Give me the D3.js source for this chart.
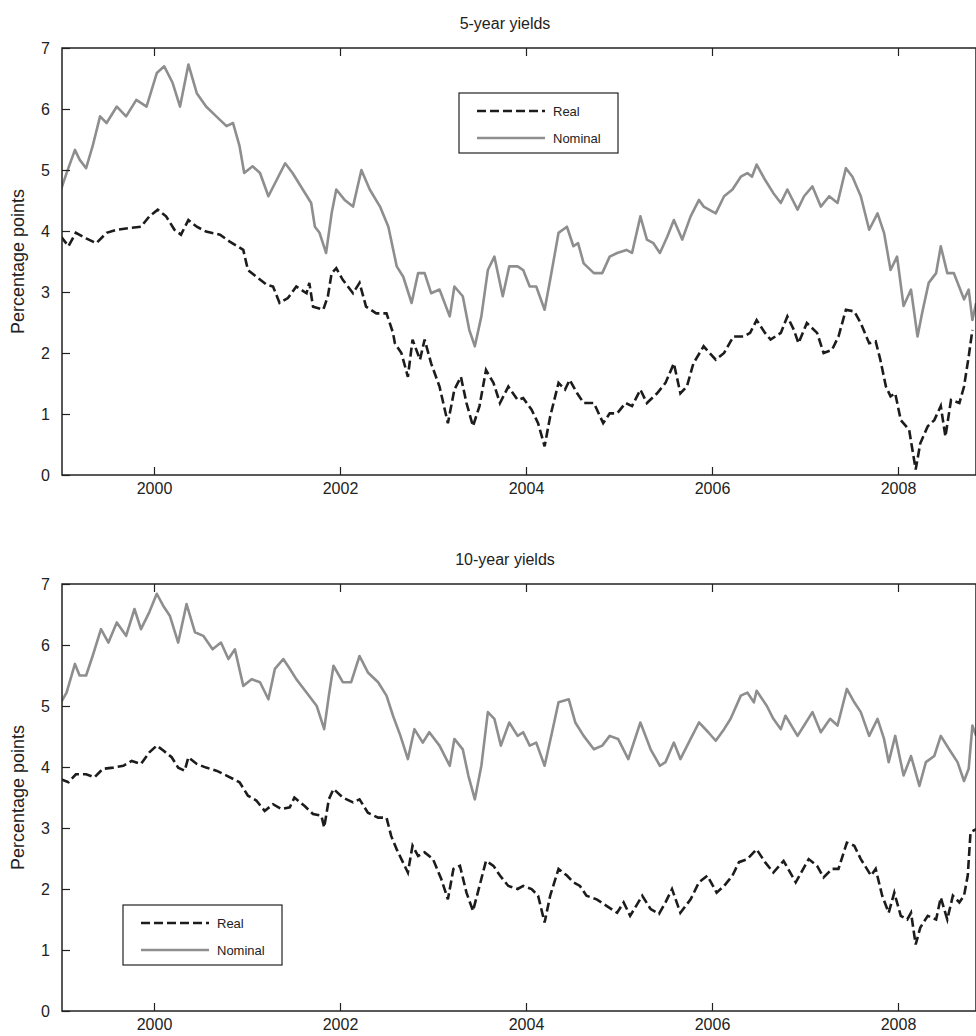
<!DOCTYPE html>
<html>
<head>
<meta charset="utf-8">
<script src="https://cdn.jsdelivr.net/npm/d3@7"></script>
<style>
  body { margin: 0; background: #fff; }
  text { font-family: "Liberation Sans", Arial, sans-serif; fill: #222; }
</style>
</head>
<body>
<script>
// 5-year yields (decimal year, percent)
const nom5Dates = [1999.00,1999.06,1999.15,1999.20,1999.27,1999.34,1999.42,1999.49,1999.60,1999.70,1999.81,1999.92,2000.03,2000.11,2000.20,2000.28,2000.37,2000.46,2000.56,2000.67,2000.78,2000.85,2000.92,2000.97,2001.06,2001.14,2001.23,2001.32,2001.41,2001.49,2001.60,2001.69,2001.73,2001.78,2001.85,2001.91,2001.96,2002.05,2002.14,2002.23,2002.32,2002.43,2002.52,2002.61,2002.68,2002.77,2002.84,2002.91,2002.98,2003.07,2003.18,2003.23,2003.32,2003.39,2003.45,2003.52,2003.59,2003.66,2003.75,2003.82,2003.91,
  2003.97,2004.04,2004.11,2004.20,2004.26,2004.35,2004.44,2004.51,2004.56,2004.62,2004.73,2004.82,2004.90,2004.98,2005.08,2005.14,2005.23,2005.30,2005.37,2005.44,2005.52,2005.59,2005.68,2005.77,2005.86,2005.91,2006.04,2006.13,2006.22,2006.31,2006.38,2006.43,2006.48,2006.57,2006.66,2006.74,2006.81,2006.92,2006.99,2007.08,2007.17,2007.26,2007.35,2007.44,2007.51,2007.60,2007.69,2007.78,2007.85,2007.92,2007.99,2008.06,2008.14,2008.21,2008.26,2008.33,2008.41,2008.46,2008.53,2008.60,2008.71,2008.76,2008.80,2008.84];
const nom5 = [4.68,4.95,5.33,5.17,5.03,5.39,5.88,5.77,6.04,5.88,6.15,6.04,6.59,6.70,6.43,6.04,6.73,6.26,6.04,5.88,5.72,5.77,5.39,4.95,5.06,4.95,4.57,4.84,5.11,4.95,4.68,4.46,4.07,3.97,3.64,4.29,4.68,4.51,4.40,5.00,4.68,4.40,4.07,3.42,3.25,2.82,3.31,3.31,2.98,3.04,2.60,3.09,2.93,2.38,2.11,2.60,3.36,3.58,2.93,3.42,3.42,
  3.36,3.09,3.09,2.71,3.20,3.97,4.07,3.75,3.80,3.47,3.31,3.31,3.58,3.64,3.69,3.64,4.24,3.86,3.80,3.64,3.91,4.18,3.86,4.24,4.51,4.40,4.29,4.57,4.68,4.89,4.95,4.89,5.09,4.84,4.62,4.46,4.68,4.35,4.57,4.73,4.40,4.57,4.46,5.03,4.89,4.57,4.02,4.29,3.97,3.36,3.58,2.77,3.04,2.27,2.66,3.15,3.31,3.75,3.31,3.31,2.88,3.04,2.54,2.82];
const real5Dates = [1999.00,1999.08,1999.16,1999.27,1999.38,1999.49,1999.60,1999.74,1999.86,1999.95,2000.04,2000.13,2000.22,2000.29,2000.37,2000.46,2000.56,2000.71,2000.81,2000.96,2001.01,2001.10,2001.21,2001.28,2001.35,2001.44,2001.53,2001.64,2001.67,2001.71,2001.82,2001.87,2001.91,2001.96,2002.03,2002.14,2002.21,2002.28,2002.39,2002.50,2002.57,2002.59,2002.66,2002.73,2002.78,2002.86,2002.91,2002.98,2003.07,2003.16,2003.23,2003.30,2003.36,2003.43,2003.50,2003.57,2003.65,2003.72,2003.81,2003.91,
  2003.97,2004.06,2004.13,2004.20,2004.26,2004.35,2004.42,2004.47,2004.55,2004.62,2004.73,2004.83,2004.90,2004.98,2005.07,2005.14,2005.23,2005.30,2005.41,2005.50,2005.59,2005.66,2005.73,2005.80,2005.91,2006.04,2006.13,2006.23,2006.34,2006.41,2006.48,2006.57,2006.63,2006.74,2006.81,2006.88,2006.93,2007.02,2007.13,2007.20,2007.29,2007.36,2007.44,2007.53,2007.60,2007.69,2007.76,2007.81,2007.87,2007.92,2007.97,2008.03,2008.12,2008.19,2008.24,2008.32,2008.39,2008.46,2008.51,2008.57,2008.66,2008.71,2008.76,2008.80];
const real5 = [3.91,3.75,3.97,3.88,3.80,3.97,4.02,4.05,4.07,4.24,4.35,4.24,4.02,3.94,4.18,4.07,3.99,3.94,3.83,3.69,3.36,3.25,3.12,3.09,2.82,2.90,3.09,2.98,3.15,2.76,2.71,2.93,3.31,3.39,3.20,2.98,3.15,2.76,2.65,2.65,2.33,2.16,2.00,1.61,2.22,1.89,2.22,1.83,1.45,0.85,1.40,1.61,1.18,0.80,1.13,1.72,1.51,1.18,1.45,1.23,
  1.26,1.07,0.85,0.47,0.96,1.51,1.40,1.56,1.34,1.18,1.18,0.85,1.01,1.01,1.18,1.13,1.40,1.18,1.34,1.51,1.83,1.34,1.45,1.83,2.11,1.89,2.00,2.27,2.27,2.33,2.54,2.33,2.22,2.33,2.60,2.38,2.16,2.49,2.33,2.00,2.05,2.27,2.71,2.68,2.49,2.16,2.19,1.89,1.45,1.29,1.34,0.90,0.74,0.09,0.52,0.80,0.90,1.13,0.63,1.23,1.18,1.45,1.94,2.38];

// 10-year yields
const nom10Dates = [1999.00,1999.06,1999.15,1999.20,1999.27,1999.34,1999.43,1999.51,1999.60,1999.70,1999.79,1999.86,1999.95,2000.03,2000.10,2000.17,2000.26,2000.35,2000.44,2000.53,2000.63,2000.72,2000.80,2000.87,2000.96,2001.05,2001.14,2001.23,2001.30,2001.39,2001.46,2001.53,2001.64,2001.75,2001.83,2001.88,2001.93,2002.03,2002.12,2002.21,2002.30,2002.41,2002.50,2002.57,2002.65,2002.73,2002.80,2002.89,2002.96,2003.07,2003.18,2003.23,2003.32,2003.38,2003.45,2003.52,2003.59,2003.66,2003.73,2003.82,2003.91,
  2003.97,2004.04,2004.11,2004.20,2004.28,2004.35,2004.46,2004.53,2004.62,2004.73,2004.82,2004.90,2004.99,2005.10,2005.23,2005.34,2005.44,2005.50,2005.59,2005.66,2005.77,2005.86,2005.96,2006.04,2006.13,2006.20,2006.31,2006.38,2006.45,2006.48,2006.59,2006.66,2006.74,2006.79,2006.92,2006.99,2007.08,2007.17,2007.27,2007.35,2007.45,2007.53,2007.60,2007.69,2007.78,2007.85,2007.90,2007.97,2008.06,2008.14,2008.23,2008.30,2008.39,2008.46,2008.55,2008.64,2008.71,2008.76,2008.80,2008.84];
const nom10 = [5.06,5.22,5.69,5.50,5.50,5.82,6.26,6.04,6.37,6.15,6.59,6.26,6.54,6.84,6.64,6.48,6.04,6.67,6.21,6.15,5.93,6.04,5.77,5.93,5.33,5.44,5.39,5.11,5.61,5.77,5.61,5.44,5.22,5.00,4.62,5.17,5.66,5.39,5.39,5.82,5.55,5.39,5.17,4.84,4.51,4.13,4.62,4.40,4.57,4.35,4.02,4.46,4.29,3.86,3.47,4.02,4.90,4.79,4.35,4.73,4.51,
  4.57,4.35,4.40,4.02,4.57,5.06,5.11,4.73,4.51,4.29,4.35,4.51,4.46,4.13,4.73,4.29,4.02,4.08,4.40,4.13,4.46,4.73,4.57,4.43,4.62,4.79,5.17,5.22,5.06,5.25,5.00,4.79,4.62,4.84,4.51,4.68,4.90,4.57,4.79,4.68,5.28,5.06,4.90,4.51,4.79,4.46,4.08,4.51,3.86,4.18,3.69,4.08,4.18,4.51,4.29,4.08,3.77,3.97,4.68,4.51];
const real10Dates = [1999.00,1999.08,1999.16,1999.27,1999.36,1999.45,1999.56,1999.67,1999.76,1999.86,1999.95,2000.03,2000.10,2000.19,2000.26,2000.33,2000.37,2000.46,2000.56,2000.67,2000.78,2000.92,2001.01,2001.10,2001.19,2001.28,2001.37,2001.46,2001.51,2001.62,2001.71,2001.80,2001.83,2001.88,2001.93,2002.03,2002.14,2002.21,2002.30,2002.41,2002.50,2002.55,2002.61,2002.66,2002.73,2002.78,2002.84,2002.91,2003.00,2003.09,2003.16,2003.22,2003.29,2003.36,2003.43,2003.50,2003.57,2003.65,2003.72,2003.81,2003.91,
  2003.97,2004.06,2004.13,2004.20,2004.26,2004.35,2004.44,2004.51,2004.58,2004.65,2004.76,2004.87,2004.98,2005.05,2005.12,2005.25,2005.34,2005.43,2005.50,2005.57,2005.66,2005.77,2005.86,2005.95,2006.05,2006.13,2006.22,2006.29,2006.38,2006.48,2006.57,2006.66,2006.77,2006.90,2007.04,2007.13,2007.20,2007.29,2007.36,2007.45,2007.53,2007.60,2007.71,2007.76,2007.83,2007.90,2007.96,2008.03,2008.10,2008.14,2008.19,2008.24,2008.32,2008.41,2008.46,2008.53,2008.59,2008.66,2008.71,2008.75,2008.78,2008.84];
const real10 = [3.80,3.75,3.88,3.88,3.83,3.97,3.99,4.02,4.10,4.05,4.24,4.35,4.27,4.16,3.99,3.94,4.16,4.05,3.99,3.94,3.86,3.75,3.53,3.45,3.28,3.39,3.31,3.34,3.50,3.36,3.23,3.20,3.01,3.47,3.64,3.50,3.42,3.47,3.25,3.17,3.17,2.87,2.65,2.49,2.27,2.71,2.54,2.60,2.49,2.16,1.83,2.33,2.38,1.94,1.64,2.05,2.46,2.38,2.22,2.05,2.00,
  2.05,2.00,1.89,1.45,1.89,2.33,2.22,2.11,2.05,1.89,1.83,1.72,1.61,1.78,1.56,1.89,1.67,1.59,1.78,2.00,1.61,1.83,2.11,2.22,1.94,2.05,2.22,2.44,2.49,2.65,2.44,2.27,2.46,2.11,2.49,2.38,2.19,2.33,2.33,2.76,2.71,2.49,2.22,2.33,1.89,1.61,1.94,1.56,1.50,1.61,1.09,1.37,1.56,1.50,1.86,1.50,1.89,1.78,1.89,2.22,2.93,2.98];

const yTicks = [0, 1, 2, 3, 4, 5, 6, 7];
const xTicks = [2000, 2002, 2004, 2006, 2008];

const W = 976, H = 1036;
const left = 62, right = 976;
const svg = d3.select("body").append("svg").attr("width", W).attr("height", H);

// 93 px per year, 2000 sits at x = 154
const x = d3.scaleLinear().domain([2000 - 92 / 93, 2000 + (right - 154) / 93]).range([left, right]);

function panel(top, bottom, title, nomD, nomV, realD, realV, legendPos) {
  const y = d3.scaleLinear().domain([0, 7]).range([bottom, top]);
  const g = svg.append("g");
  const id = "clip" + Math.round(top);
  g.append("clipPath").attr("id", id).append("rect")
    .attr("x", left).attr("y", top).attr("width", right - left).attr("height", bottom - top);

  const line = d3.line().x(d => x(d[0])).y(d => y(d[1]));
  g.append("path").datum(d3.zip(nomD, nomV))
    .attr("d", line).attr("clip-path", `url(#${id})`)
    .attr("fill", "none").attr("stroke", "#8e8e8e").attr("stroke-width", 2.6)
    .attr("stroke-linejoin", "round");
  g.append("path").datum(d3.zip(realD, realV))
    .attr("d", line).attr("clip-path", `url(#${id})`)
    .attr("fill", "none").attr("stroke", "#1c1c1c").attr("stroke-width", 2.6)
    .attr("stroke-dasharray", "9,4");

  // frame
  g.append("rect").attr("x", left).attr("y", top).attr("width", right - left).attr("height", bottom - top)
    .attr("fill", "none").attr("stroke", "#222").attr("stroke-width", 1.5);

  // axes with inward ticks
  g.append("g").attr("transform", `translate(0,${bottom})`)
    .call(d3.axisBottom(x).tickValues(xTicks).tickFormat(d3.format("d")).tickSize(-8).tickPadding(8))
    .call(a => a.select(".domain").remove())
    .selectAll("text").attr("font-size", 16).attr("fill", "#222");
  g.append("g").attr("transform", `translate(0,${top})`)
    .call(d3.axisTop(x).tickValues(xTicks).tickFormat("").tickSize(-8))
    .call(a => a.select(".domain").remove());
  g.append("g").attr("transform", `translate(${left},0)`)
    .call(d3.axisLeft(y).tickValues(yTicks).tickFormat(d3.format("d")).tickSize(-8).tickPadding(12))
    .call(a => a.select(".domain").remove())
    .selectAll("text").attr("font-size", 16).attr("fill", "#222");
  g.selectAll(".tick line").attr("stroke", "#222").attr("stroke-width", 1.2);

  g.append("text").attr("x", 505).attr("y", top - 19).attr("text-anchor", "middle")
    .attr("font-size", 16).text(title);
  g.append("text").attr("transform", `translate(24,${(top + bottom) / 2}) rotate(-90)`)
    .attr("text-anchor", "middle").attr("font-size", 18).text("Percentage points");

  // legend
  const [lx, ly] = legendPos;
  const lg = g.append("g").attr("transform", `translate(${lx},${ly})`);
  lg.append("rect").attr("width", 159).attr("height", 60).attr("fill", "#fff")
    .attr("stroke", "#222").attr("stroke-width", 1.2);
  lg.append("line").attr("x1", 18).attr("x2", 86).attr("y1", 18).attr("y2", 18)
    .attr("stroke", "#1c1c1c").attr("stroke-width", 2.6).attr("stroke-dasharray", "9,4");
  lg.append("line").attr("x1", 18).attr("x2", 86).attr("y1", 45).attr("y2", 45)
    .attr("stroke", "#8e8e8e").attr("stroke-width", 2.6);
  lg.append("text").attr("x", 94).attr("y", 23).attr("font-size", 13).text("Real");
  lg.append("text").attr("x", 94).attr("y", 50).attr("font-size", 13).text("Nominal");
}

panel(48, 475, "5-year yields", nom5Dates, nom5, real5Dates, real5, [459, 93]);
panel(584, 1011, "10-year yields", nom10Dates, nom10, real10Dates, real10, [123, 905]);
</script>
</body>
</html>
